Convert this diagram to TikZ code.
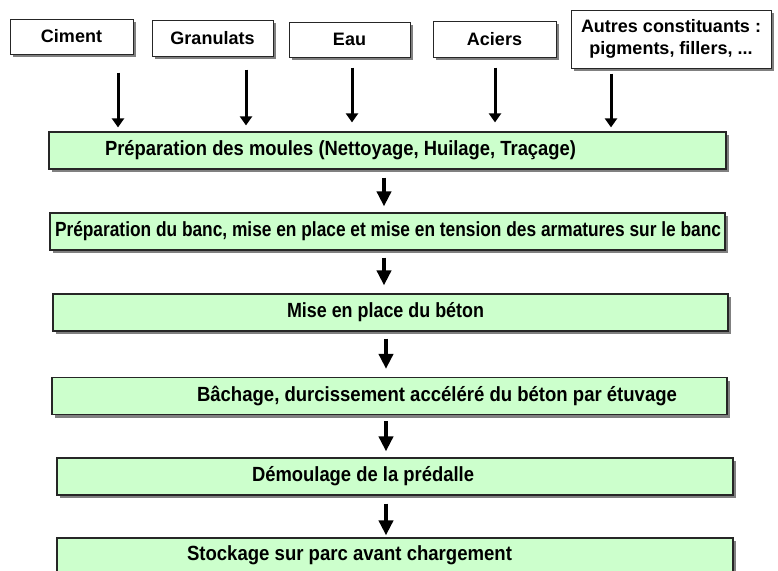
\documentclass[tikz,border=0pt]{standalone}
\usepackage{fontspec}
\setmainfont{Liberation Sans}
\usetikzlibrary{arrows.meta,shadows}
\newcommand\boxtxt[5]{\makebox[#1pt][l]{\hspace{#2pt}\raisebox{#5pt}{\resizebox{#3pt}{\height}{#4}}}}
\tikzset{
  shad/.style={drop shadow={shadow xshift=3pt, shadow yshift=-3pt, fill=black!50, opacity=1}},
  inbox/.style={shad, draw=black!85, line width=1pt, fill=white, inner sep=0pt,
    font=\fontsize{18}{22}\selectfont\bfseries, align=center},
  stepbox/.style={shad, draw=black!85, line width=1.2pt, fill=stepfill, inner sep=0pt,
    minimum height=37pt, font=\fontsize{20.5}{24}\selectfont\bfseries},
  smallarr/.style={line width=3pt, -{Triangle[width=12pt,length=9pt]}},
  bigarr/.style={line width=3.8pt, -{Triangle[width=14pt,length=15pt]}}
}
\definecolor{stepfill}{HTML}{CCFFCC}
\begin{document}
\begin{tikzpicture}[x=1pt,y=-1pt]
\useasboundingbox (0,0) rectangle (778,570);
% top inputs
\node[inbox, minimum width=123pt, minimum height=35pt] (ciment) at (71.5,36.5) {Ciment};
\node[inbox, minimum width=121pt, minimum height=36pt] (gran) at (212.5,38) {Granulats};
\node[inbox, minimum width=121pt, minimum height=35pt] (eau) at (349.5,39.5) {\raisebox{-4pt}{Eau}};
\node[inbox, minimum width=123pt, minimum height=36pt] (aciers) at (494.5,39) {Aciers};
\node[inbox, minimum width=200pt, minimum height=58pt] (autres) at (671,39) {Autres constituants :\\pigments, fillers, ...};
% process steps
\node[stepbox, minimum width=677pt] (b1) at (387.5,150.5)
  {\boxtxt{677}{56}{471}{Préparation des moules (Nettoyage, Huilage, Traçage)}{-1}};
\node[stepbox, minimum width=675pt] (b2) at (387.5,231.5)
  {\boxtxt{675}{5}{666}{Préparation du banc, mise en place et mise en tension des armatures sur le banc}{0}};
\node[stepbox, minimum width=675pt] (b3) at (390.5,312.5)
  {\boxtxt{675}{234}{197}{Mise en place du béton}{1}};
\node[stepbox, minimum width=675pt] (b4) at (389.5,396)
  {\boxtxt{675}{145}{480}{Bâchage, durcissement accéléré du béton par étuvage}{0}};
\node[stepbox, minimum width=676pt] (b5) at (395,476.5)
  {\boxtxt{676}{195}{222}{Démoulage de la prédalle}{3}};
\node[stepbox, minimum width=676pt] (b6) at (395,556.5)
  {\boxtxt{676}{130}{325}{Stockage sur parc avant chargement}{6}};
% input arrows
\draw[smallarr, shorten <=18pt, shorten >=4pt] ([xshift=46.5pt]ciment.south) -- ([xshift=46.5pt]ciment.south |- b1.north);
\draw[smallarr, shorten <=13pt, shorten >=6pt] ([xshift=33.5pt]gran.south) -- ([xshift=33.5pt]gran.south |- b1.north);
\draw[smallarr, shorten <=10pt, shorten >=9pt] ([xshift=2.5pt]eau.south) -- ([xshift=2.5pt]eau.south |- b1.north);
\draw[smallarr, shorten <=10pt, shorten >=9pt] ([xshift=0.5pt]aciers.south) -- ([xshift=0.5pt]aciers.south |- b1.north);
\draw[smallarr, shorten <=5pt, shorten >=4pt] ([xshift=-60pt]autres.south) -- ([xshift=-60pt]autres.south |- b1.north);
% step arrows
\draw[bigarr, shorten <=8pt, shorten >=6pt] ([xshift=-3.5pt]b1.south) -- ([xshift=-3.5pt]b1.south |- b2.north);
\draw[bigarr, shorten <=7pt, shorten >=8pt] ([xshift=-3.5pt]b2.south) -- ([xshift=-3.5pt]b2.south |- b3.north);
\draw[bigarr, shorten <=7pt, shorten >=8pt] ([xshift=-4.5pt]b3.south) -- ([xshift=-4.5pt]b3.south |- b4.north);
\draw[bigarr, shorten <=6pt, shorten >=6pt] ([xshift=-3.5pt]b4.south) -- ([xshift=-3.5pt]b4.south |- b5.north);
\draw[bigarr, shorten <=8pt, shorten >=2pt] ([xshift=-9pt]b5.south) -- ([xshift=-9pt]b5.south |- b6.north);
\end{tikzpicture}
\end{document}
